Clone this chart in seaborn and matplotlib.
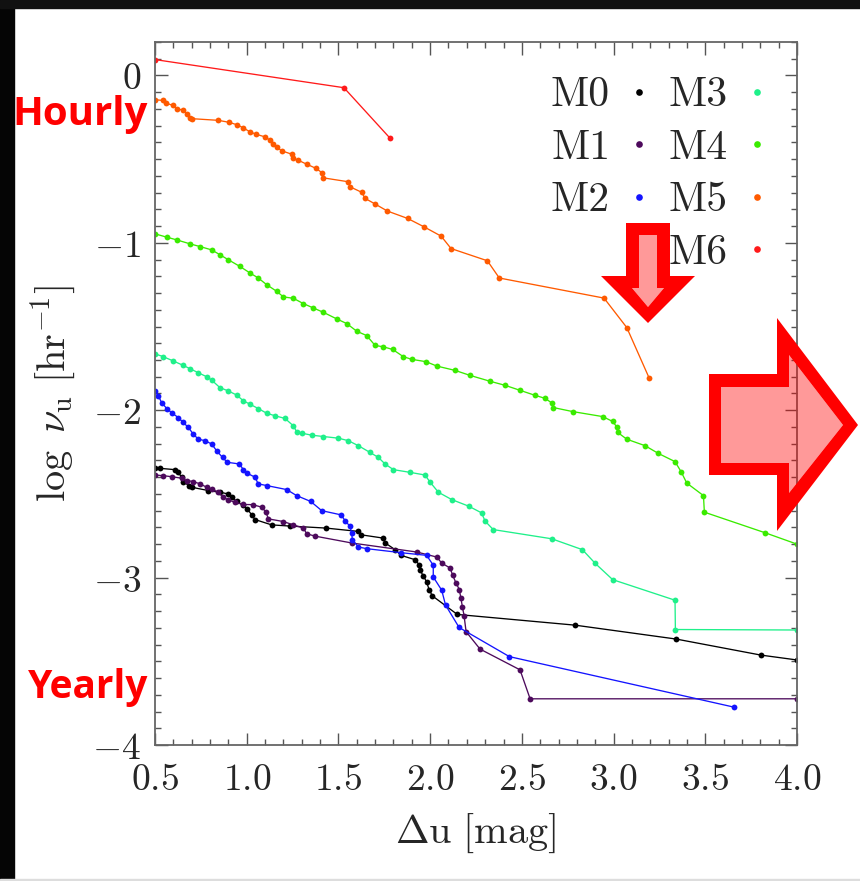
import matplotlib
matplotlib.use("Agg")
import matplotlib.pyplot as plt
import pandas as pd
import numpy as np
import seaborn as sns
from matplotlib.patches import Polygon, PathPatch, Rectangle
from matplotlib.path import Path
from matplotlib.lines import Line2D

# ---- data (delta u [mag], log nu_u [1/hr]) ----
m0_x = [0.5, 0.527, 0.609, 0.627, 0.645, 0.654, 0.687, 0.7, 0.791, 0.854, 0.9, 0.918, 0.945,
        0.982, 1.003, 1.027, 1.045, 1.136, 1.236, 1.432, 1.609, 1.622, 1.745, 1.754, 1.809,
        1.841, 1.918, 1.94, 1.945, 1.963, 1.981, 1.994, 2.012, 2.148, 2.79, 3.341, 3.804, 4.0]
m0_y = [-2.347, -2.347, -2.355, -2.371, -2.401, -2.43, -2.45, -2.46, -2.48, -2.49, -2.5, -2.52,
        -2.545, -2.569, -2.589, -2.625, -2.653, -2.685, -2.692, -2.704, -2.724, -2.744, -2.764,
        -2.792, -2.833, -2.867, -2.893, -2.923, -2.956, -2.99, -3.026, -3.071, -3.109, -3.22,
        -3.284, -3.367, -3.463, -3.492]

m1_x = [0.5, 0.545, 0.59, 0.645, 0.673, 0.709, 0.745, 0.782, 0.809, 0.845, 0.873, 0.9, 0.936,
        0.982, 1.032, 1.082, 1.105, 1.118, 1.2, 1.254, 1.309, 1.327, 1.372, 1.572, 1.927, 2.036,
        2.063, 2.109, 2.123, 2.141, 2.159, 2.167, 2.176, 2.185, 2.196, 2.272, 2.49, 2.545, 4.0]
m1_y = [-2.387, -2.391, -2.397, -2.406, -2.42, -2.426, -2.44, -2.46, -2.47, -2.49, -2.52, -2.536,
        -2.55, -2.563, -2.564, -2.579, -2.609, -2.649, -2.665, -2.685, -2.704, -2.738, -2.752,
        -2.793, -2.847, -2.877, -2.913, -2.943, -2.986, -3.032, -3.071, -3.119, -3.175, -3.228,
        -3.323, -3.427, -3.551, -3.724, -3.724]

m2_x = [0.5, 0.518, 0.536, 0.564, 0.59, 0.627, 0.654, 0.682, 0.709, 0.736, 0.773, 0.809, 0.836,
        0.868, 0.894, 0.96, 0.982, 1.0, 1.045, 1.063, 1.109, 1.218, 1.272, 1.349, 1.409, 1.514,
        1.536, 1.563, 1.572, 1.576, 1.609, 1.654, 1.841, 1.981, 2.017, 2.017, 2.063, 2.084,
        2.158, 2.432, 3.657]
m2_y = [-1.885, -1.914, -1.954, -1.99, -2.014, -2.044, -2.073, -2.103, -2.143, -2.173, -2.182,
        -2.202, -2.242, -2.282, -2.311, -2.321, -2.355, -2.375, -2.4, -2.44, -2.45, -2.474, -2.51,
        -2.545, -2.6, -2.625, -2.659, -2.694, -2.732, -2.774, -2.817, -2.827, -2.851, -2.867,
        -2.926, -2.996, -3.075, -3.164, -3.298, -3.472, -3.774]

m3_x = [0.5, 0.545, 0.6, 0.654, 0.691, 0.736, 0.782, 0.809, 0.854, 0.9, 0.945, 0.982, 1.018,
        1.063, 1.109, 1.154, 1.209, 1.254, 1.272, 1.3, 1.354, 1.418, 1.5, 1.554, 1.609, 1.672,
        1.718, 1.754, 1.8, 1.89, 1.972, 2.0, 2.045, 2.118, 2.21, 2.28, 2.3, 2.344, 2.663, 2.83,
        2.9, 2.995, 3.335, 3.337, 4.0]
m3_y = [-1.663, -1.68, -1.706, -1.732, -1.752, -1.776, -1.8, -1.82, -1.865, -1.885, -1.909,
        -1.944, -1.964, -1.99, -2.018, -2.033, -2.049, -2.093, -2.128, -2.137, -2.149, -2.157,
        -2.167, -2.182, -2.212, -2.252, -2.282, -2.321, -2.355, -2.371, -2.387, -2.43, -2.49,
        -2.534, -2.573, -2.613, -2.663, -2.713, -2.768, -2.833, -2.915, -3.012, -3.135, -3.31,
        -3.313]

m4_x = [0.5, 0.564, 0.618, 0.691, 0.745, 0.809, 0.854, 0.9, 0.963, 1.018, 1.063, 1.109, 1.164,
        1.2, 1.254, 1.309, 1.363, 1.418, 1.49, 1.545, 1.6, 1.654, 1.7, 1.745, 1.796, 1.854, 1.9,
        1.978, 2.036, 2.136, 2.218, 2.327, 2.408, 2.49, 2.572, 2.627, 2.665, 2.672, 2.777, 2.941,
        2.995, 3.017, 3.023, 3.072, 3.172, 3.244, 3.335, 3.368, 3.399, 3.49, 3.495, 3.826, 4.0]
m4_y = [-0.946, -0.966, -0.982, -1.006, -1.022, -1.042, -1.071, -1.101, -1.141, -1.18, -1.21,
        -1.25, -1.29, -1.323, -1.331, -1.363, -1.389, -1.415, -1.454, -1.482, -1.528, -1.554,
        -1.613, -1.621, -1.637, -1.68, -1.696, -1.71, -1.736, -1.762, -1.792, -1.827, -1.851,
        -1.881, -1.911, -1.929, -1.958, -1.984, -2.008, -2.038, -2.067, -2.099, -2.133, -2.173,
        -2.212, -2.258, -2.307, -2.367, -2.435, -2.51, -2.609, -2.732, -2.8]

m5_x = [0.5, 0.542, 0.56, 0.598, 0.618, 0.654, 0.673, 0.691, 0.7, 0.845, 0.905, 0.945, 0.978,
        1.018, 1.051, 1.1, 1.127, 1.145, 1.164, 1.19, 1.245, 1.25, 1.28, 1.327, 1.378, 1.409,
        1.414, 1.554, 1.563, 1.627, 1.645, 1.7, 1.767, 1.877, 1.968, 2.06, 2.114, 2.312, 2.377,
        2.948, 3.072, 3.195]
m5_y = [-0.145, -0.149, -0.165, -0.179, -0.198, -0.208, -0.228, -0.252, -0.258, -0.268, -0.28,
        -0.294, -0.311, -0.337, -0.351, -0.367, -0.387, -0.407, -0.427, -0.45, -0.47, -0.496,
        -0.506, -0.53, -0.555, -0.58, -0.611, -0.635, -0.665, -0.698, -0.734, -0.768, -0.81,
        -0.854, -0.905, -0.96, -1.034, -1.107, -1.21, -1.33, -1.506, -1.81]

m6_x = [0.5, 1.53, 1.78]
m6_y = [0.095, -0.073, -0.373]

series = ["M0", "M1", "M2", "M3", "M4", "M5", "M6"]
colors = ["#000000", "#4d0a5c", "#1414ff", "#1ff08a", "#3aeb00", "#ff5a00", "#ff1a1a"]
xs = [m0_x, m1_x, m2_x, m3_x, m4_x, m5_x, m6_x]
ys = [m0_y, m1_y, m2_y, m3_y, m4_y, m5_y, m6_y]

xticks = [0.5, 1.0, 1.5, 2.0, 2.5, 3.0, 3.5, 4.0]
xticklabels = ["0.5", "1.0", "1.5", "2.0", "2.5", "3.0", "3.5", "4.0"]
yticks = [0, -1, -2, -3, -4]
yticklabels = ["0", "-1", "-2", "-3", "-4"]

df = pd.concat([pd.DataFrame({"du": x, "lognu": y, "type": s})
                for s, x, y in zip(series, xs, ys)], ignore_index=True)

sns.set_style("ticks")
plt.rcParams["mathtext.fontset"] = "cm"
plt.rcParams["axes.unicode_minus"] = False

W, H = 860, 881
fig = plt.figure(figsize=(8.6, 8.81), dpi=100)
fig.patch.set_facecolor("white")

def fx(px):
    return px / W

def fy(py):
    return 1 - py / H

ax = fig.add_axes([fx(155), fy(745), fx(797) - fx(155), fy(42) - fy(745)])

sns.lineplot(data=df, x="du", y="lognu", hue="type", palette=dict(zip(series, colors)),
             estimator=None, sort=False, marker="o", markersize=4.2, markeredgewidth=0,
             linewidth=0.95, legend=False, ax=ax)

ax.set_xlim(0.5, 4.0)
ax.set_ylim(-4.0, 0.2)
ax.set_xticks(xticks)
ax.set_xticklabels([f"${t}$" for t in xticklabels], fontsize=27)
ax.set_yticks(yticks)
ax.set_yticklabels([f"${t}$" for t in yticklabels], fontsize=27)
ax.xaxis.set_minor_locator(matplotlib.ticker.MultipleLocator(0.1))
ax.yaxis.set_minor_locator(matplotlib.ticker.MultipleLocator(0.1))
ax.tick_params(which="both", direction="in", top=True, right=True, color="#555555", width=1.0)
ax.tick_params(which="major", length=9)
ax.tick_params(which="minor", length=4.5)
ax.tick_params(axis="x", which="major", pad=12)
ax.tick_params(axis="y", which="major", pad=10)
for sp in ax.spines.values():
    sp.set_color("#666666")
    sp.set_linewidth(1.3)

ax.set_xlabel(r"$\Delta{\rm u}\ [{\rm mag}]$", fontsize=29, labelpad=10)
ax.set_ylabel(r"$\log\ \nu_{\rm u}\ [{\rm hr}^{-1}]$", fontsize=29, labelpad=10)

# legend: text then dot, M6 alone under the second column
handles = [Line2D([], [], linestyle="none", marker="o", markersize=4.8, markeredgewidth=0,
                  color=c) for c in colors]
labels = list(series)
handles.insert(3, Line2D([], [], linestyle="none"))
labels.insert(3, "")
ax.legend(handles, labels, ncol=2, markerfirst=False, frameon=False,
          prop={"family": "cmr10", "size": 30}, handlelength=0.8, handletextpad=0.3,
          columnspacing=0.3, labelspacing=0.36, borderpad=0, borderaxespad=0,
          loc="upper left", bbox_to_anchor=(fx(551), fy(77)), bbox_transform=fig.transFigure)

# slide annotations
fig.text(fx(148), fy(125), "Hourly", ha="right", va="baseline", color="#ff0000",
         fontsize=29, fontweight="bold", family="Open Sans")
fig.text(fx(148), fy(698), "Yearly", ha="right", va="baseline", color="#ff0000",
         fontsize=28, fontweight="bold", family="Open Sans")

def arrow(outer, inner):
    o = [(fx(a), fy(b)) for a, b in outer]
    i = [(fx(a), fy(b)) for a, b in inner]
    verts = o + [o[0]] + i[::-1] + [i[-1]]
    codes = ([Path.MOVETO] + [Path.LINETO] * (len(o) - 1) + [Path.CLOSEPOLY]
             + [Path.MOVETO] + [Path.LINETO] * (len(i) - 1) + [Path.CLOSEPOLY])
    fig.add_artist(PathPatch(Path(verts, codes), facecolor="#ff0000", edgecolor="none",
                             transform=fig.transFigure, zorder=10))
    fig.add_artist(Polygon(i, closed=True, facecolor=(1, 0, 0, 0.4), edgecolor="none",
                           transform=fig.transFigure, zorder=10))

arrow([(626, 223), (670, 223), (670, 276), (695, 276), (648, 323), (601, 276), (626, 276)],
      [(639, 235), (657, 235), (657, 288), (664, 288), (648, 307), (632, 288), (639, 288)])
arrow([(709, 374), (777, 374), (777, 318), (858, 425), (777, 531), (777, 475), (709, 475)],
      [(721, 387), (789, 387), (789, 355), (843, 425), (789, 493), (789, 463), (721, 463)])

# dark slide frame
fig.add_artist(Rectangle((0, 0), fx(14), 1, transform=fig.transFigure, color="#050505", zorder=0))
fig.add_artist(Rectangle((0, fy(8)), 1, 1 - fy(8), transform=fig.transFigure, color="#111111", zorder=0))
fig.add_artist(Rectangle((0, 0), 1, 1 - fy(2), transform=fig.transFigure, color="#dddddd", zorder=0))

fig.savefig("out.png", dpi=100, facecolor=fig.get_facecolor())
